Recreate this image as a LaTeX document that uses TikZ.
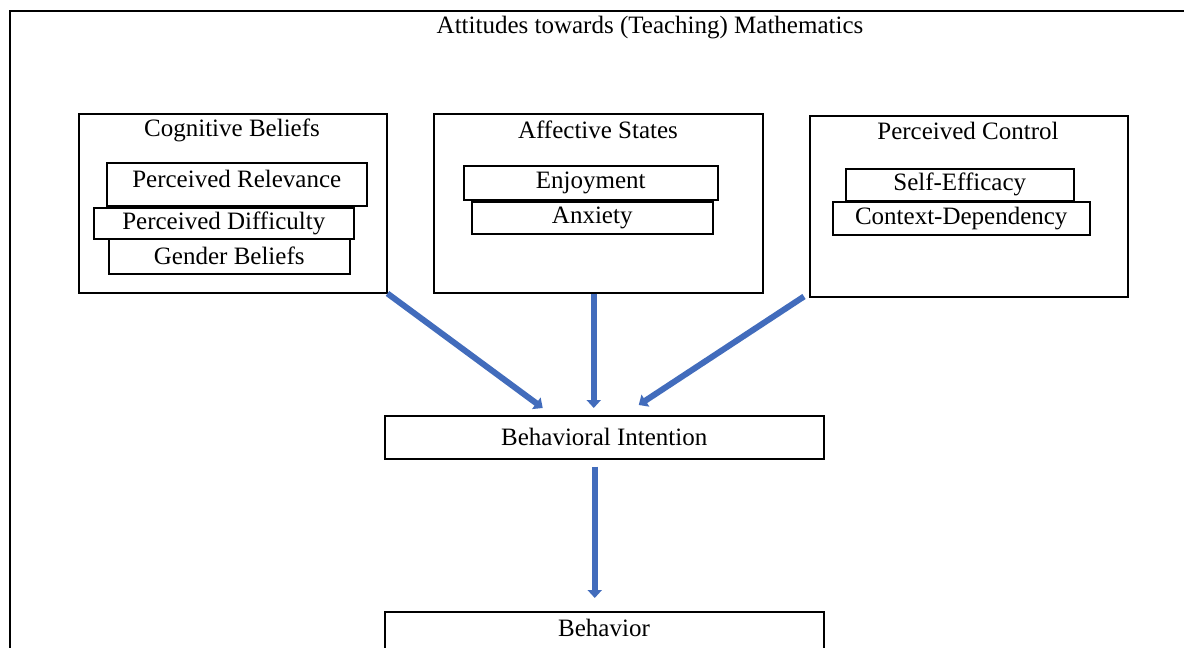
\documentclass[tikz,border=0pt]{standalone}
\usepackage{fontspec}
\setmainfont{Liberation Serif}
\usetikzlibrary{arrows.meta}
\definecolor{flowblue}{RGB}{66,108,188}

\begin{document}
\begin{tikzpicture}[x=0.5pt,y=-0.5pt,
            font=\fontsize{12.5}{15}\selectfont,
            box/.style={draw, fill=white, line width=0.75pt, inner sep=0pt, anchor=north west},
            flow/.style={draw=flowblue, line width=3pt, -{Triangle[width=7pt,length=4pt]}}]
            \clip (0,0) rectangle (1184,648);
            \draw[line width=0.75pt] (10,11) rectangle (1260,720);
            \node (title) at (650,28) {Attitudes towards (Teaching) Mathematics};

            % three groups
            \node[box, minimum width=154pt, minimum height=89.5pt] (cog) at (78,113) {};
            \node (cogtitle) at (232,130) {Cognitive Beliefs};
            \node[box, minimum width=130pt, minimum height=21.5pt, text depth=5pt] (rel) at (106,162) {Perceived Relevance};
            \node[box, minimum width=130pt, minimum height=15.5pt] (dif) at (93,207) {Perceived Difficulty};
            \node[box, minimum width=120.5pt, minimum height=17.5pt] (gen) at (108,238) {Gender Beliefs};

            \node[box, minimum width=164.5pt, minimum height=89.5pt] (aff) at (433,113) {};
            \node (afftitle) at (598,130) {Affective States};
            \node[box, minimum width=127pt, minimum height=17pt] (enj) at (463,165) {Enjoyment};
            \node[box, minimum width=120.5pt, minimum height=16pt] (anx) at (471,201) {Anxiety};

            \node[box, minimum width=159pt, minimum height=90.5pt] (ctl) at (809,115) {};
            \node (ctltitle) at (968,131) {Perceived Control};
            \node[box, minimum width=114pt, minimum height=16pt] (self) at (845,168) {Self-Efficacy};
            \node[box, minimum width=128.5pt, minimum height=16.5pt] (ctx) at (832,201) {Context-Dependency};

            \node[box, minimum width=219.5pt, minimum height=21.5pt] (bi) at (384,415) {Behavioral Intention};
            \node[box, minimum width=219.5pt, minimum height=50pt] (beh) at (384,611) {};
            \node (behtitle) at (604,628) {Behavior};

            % arrows
            \draw[flow] (cog.south east) -- ([xshift=-30.75pt,yshift=3.5pt]bi.north);
            \draw[flow] ([xshift=-2.25pt]aff.south) -- ([xshift=-5.25pt,yshift=3.5pt]bi.north);
            \draw[flow] ([xshift=-2.5pt,yshift=0.5pt]ctl.south west) -- ([xshift=17.25pt,yshift=5pt]bi.north);
            \draw[flow] ([xshift=-4.75pt,yshift=-3.5pt]bi.south) -- ([xshift=-4.75pt,yshift=6.5pt]beh.north);
\end{tikzpicture}
\end{document}
